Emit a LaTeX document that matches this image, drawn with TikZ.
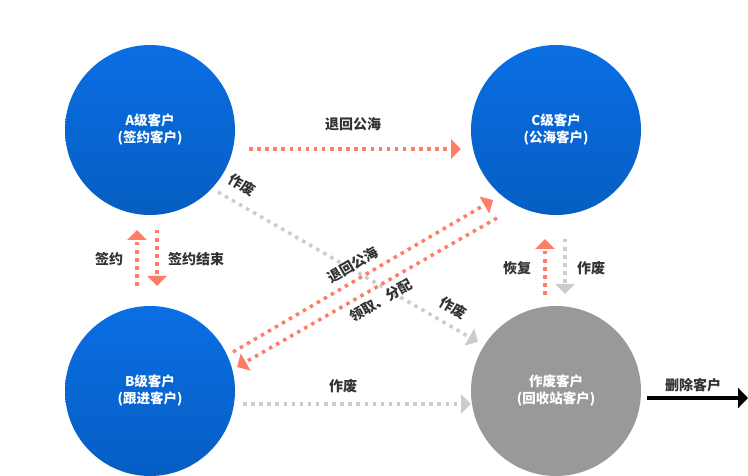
\documentclass[tikz,border=0pt]{standalone}
\usepackage{fontspec}
\setmainfont{Noto Sans CJK SC}
\usetikzlibrary{arrows.meta}
\definecolor{blueA}{RGB}{10,110,228}
\definecolor{blueB}{RGB}{6,94,194}
\definecolor{redd}{RGB}{255,125,100}
\definecolor{grayd}{RGB}{204,204,204}
\definecolor{grayc}{RGB}{153,153,153}
\definecolor{txt}{RGB}{51,51,51}
\begin{document}
\begin{tikzpicture}[x=1pt,y=-1pt,
  circ/.style={circle,minimum size=170pt,inner sep=0pt,text=white,
    font=\bfseries\fontsize{13.5}{17}\selectfont,align=center},
  bluecirc/.style={circ,top color=blueA,bottom color=blueB},
  graycirc/.style={circ,fill=grayc},
  reddot/.style={draw=redd,line width=3.5pt,dash pattern=on 3.5pt off 4.6pt,
    -{Triangle[width=19pt,length=10pt,fill=redd]}},
  graydot/.style={draw=grayd,line width=3.5pt,dash pattern=on 3.5pt off 4.6pt,
    -{Triangle[width=19pt,length=10pt,fill=grayd]}},
  blackarrow/.style={draw=black,line width=4pt,-{Triangle[width=20pt,length=10pt]}},
  lbl/.style={text=txt,font=\bfseries\fontsize{14}{16}\selectfont,inner sep=0pt},
]
\useasboundingbox (0,0) rectangle (748,476);

% circles
\node[bluecirc] (A) at (150,130) {A级客户\\(签约客户)};
\node[bluecirc] (C) at (556,130) {C级客户\\(公海客户)};
\node[bluecirc] (B) at (150,391) {B级客户\\(跟进客户)};
\node[graycirc] (D) at (556,391) {作废客户\\(回收站客户)};

% connector end points
\coordinate (ah1) at (249,149);  \coordinate (ch1) at (461,149);
\coordinate (ad1) at (218,192);  \coordinate (dd1) at (478,342);
\coordinate (bc1) at (233,352);  \coordinate (cb1) at (493,200);
\coordinate (cb2) at (497,218);  \coordinate (bc2) at (237,367);
\coordinate (bu1) at (137,286);  \coordinate (au1) at (137,230);
\coordinate (ad2) at (157,230);  \coordinate (bd2) at (157,286);
\coordinate (du1) at (545,295);  \coordinate (cu1) at (545,239);
\coordinate (cd2) at (565,239);  \coordinate (dd2) at (565,294);
\coordinate (bh1) at (243,404);  \coordinate (dh1) at (471,404);
\coordinate (do1) at (647,398);  \coordinate (out) at (748,398);

% connectors
\draw[reddot] (ah1) -- (ch1);
\draw[graydot] (ad1) -- (dd1);
\draw[reddot] (bc1) -- (cb1);
\draw[reddot] (cb2) -- (bc2);
\draw[reddot] (bu1) -- (au1);
\draw[reddot] (ad2) -- (bd2);
\draw[reddot] (du1) -- (cu1);
\draw[graydot] (cd2) -- (dd2);
\draw[graydot] (bh1) -- (dh1);
\draw[blackarrow] (do1) -- (out);

% labels
\node[lbl] (l1) at (353,124) {退回公海};
\node[lbl,rotate=-30] (l2) at (242,185) {作废};
\node[lbl,rotate=-30] (l3) at (453,308) {作废};
\node[lbl,rotate=30] (l4) at (353,265) {退回公海};
\node[lbl,rotate=30] (l5) at (381,300) {领取、分配};
\node[lbl] (l6) at (109,259) {签约};
\node[lbl] (l7) at (196,259) {签约结束};
\node[lbl] (l8) at (517,268) {恢复};
\node[lbl] (l9) at (591,268) {作废};
\node[lbl] (l10) at (343,386) {作废};
\node[lbl] (l11) at (693,385) {删除客户};
\end{tikzpicture}
\end{document}
